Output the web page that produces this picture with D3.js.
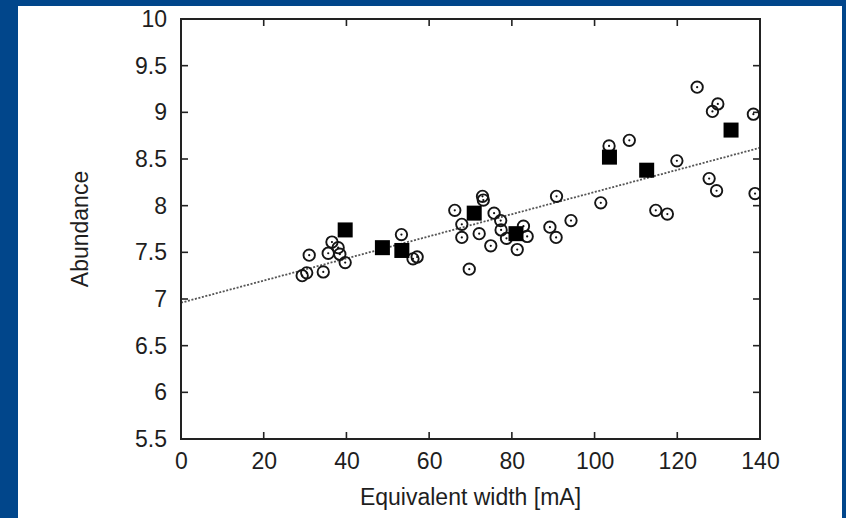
<!DOCTYPE html>
<html><head><meta charset="utf-8">
<script src="https://cdn.jsdelivr.net/npm/d3@7/dist/d3.min.js"></script>
<style>html,body{margin:0;padding:0;background:#01468b;}svg{display:block}</style>
</head><body>
<script>
// ---- data ----
const circleX = [29.3,30.4,31.0,34.4,35.6,36.5,38.0,38.4,39.7,53.3,56.1,57.1,
  66.2,67.9,67.9,69.7,72.1,72.9,73.1,74.9,75.7,77.3,77.4,78.7,81.3,82.8,83.7,
  89.2,90.7,90.8,94.3,101.5,103.5,108.4,114.8,117.6,119.9,124.8,127.7,128.5,129.5,129.8,138.4,138.8];
const circleY = [7.25,7.28,7.47,7.29,7.49,7.61,7.55,7.48,7.39,7.69,7.43,7.45,
  7.95,7.80,7.66,7.32,7.70,8.10,8.06,7.57,7.92,7.84,7.74,7.65,7.53,7.78,7.67,
  7.77,7.66,8.10,7.84,8.03,8.64,8.70,7.95,7.91,8.48,9.27,8.29,9.01,8.16,9.09,8.98,8.13];
const squareX = [39.7,48.7,53.4,70.9,81.0,103.6,112.6,133.0];
const squareY = [7.74,7.55,7.52,7.92,7.70,8.52,8.38,8.81];
const fitIntercept = [6.96];
const fitSlope = [0.01186];
const xTicks = [0,20,40,60,80,100,120,140];
const yTicks = [5.5,6,6.5,7,7.5,8,8.5,9,9.5,10];
const xTitle = "Equivalent width [mA]";
const yTitle = "Abundance";

const W = 846, H = 518;
const m = {left:181, right:760, top:19, bottom:439};
const svg = d3.select("body").append("svg").attr("width",W).attr("height",H);
svg.append("rect").attr("x",0).attr("y",0).attr("width",W).attr("height",H).attr("fill","#01468b");
svg.append("rect").attr("x",18).attr("y",6).attr("width",824).attr("height",H-6).attr("fill","#fff");

const x = d3.scaleLinear().domain([0,140]).range([m.left,m.right]);
const y = d3.scaleLinear().domain([5.5,10]).range([m.bottom,m.top]);
const font = "'Liberation Sans', Arial, sans-serif";
const fs = 23;
const tc = "#1e1e1e";

svg.append("clipPath").attr("id","c").append("rect")
  .attr("x",m.left).attr("y",m.top).attr("width",m.right-m.left).attr("height",m.bottom-m.top);

// regression line
const lx = [0,140];
svg.append("line")
  .attr("x1",x(lx[0])).attr("y1",y(fitIntercept[0]+fitSlope[0]*lx[0]))
  .attr("x2",x(lx[1])).attr("y2",y(fitIntercept[0]+fitSlope[0]*lx[1]))
  .attr("stroke","#555").attr("stroke-width",1.8).attr("stroke-dasharray","2,1.6");

// axes
const tl = 7;
const bottomAx = d3.axisBottom(x).tickValues(xTicks).tickSize(0).tickPadding(14).tickFormat(d3.format("d"));
const leftAx = d3.axisLeft(y).tickValues(yTicks).tickSize(0).tickPadding(14).tickFormat(d=>d3.format("")(d));
const gb = svg.append("g").attr("transform",`translate(0,${m.bottom})`).call(bottomAx);
const gl = svg.append("g").attr("transform",`translate(${m.left},0)`).call(leftAx);
[gb,gl].forEach(g=>{g.select(".domain").remove();
  g.selectAll("text").attr("font-family",font).attr("font-size",fs).attr("fill",tc);});
// inward ticks on all four sides
const tg = svg.append("g").attr("stroke","#222").attr("stroke-width",1.6);
xTicks.slice(1,-1).forEach(v=>{
  tg.append("line").attr("x1",x(v)).attr("x2",x(v)).attr("y1",m.bottom).attr("y2",m.bottom-tl);
  tg.append("line").attr("x1",x(v)).attr("x2",x(v)).attr("y1",m.top).attr("y2",m.top+tl);
});
yTicks.slice(1,-1).forEach(v=>{
  tg.append("line").attr("y1",y(v)).attr("y2",y(v)).attr("x1",m.left).attr("x2",m.left+tl);
  tg.append("line").attr("y1",y(v)).attr("y2",y(v)).attr("x1",m.right).attr("x2",m.right-tl);
});
svg.append("rect").attr("x",m.left).attr("y",m.top).attr("width",m.right-m.left).attr("height",m.bottom-m.top)
  .attr("fill","none").attr("stroke","#222").attr("stroke-width",2);

// circles
const cg = svg.append("g").attr("clip-path","url(#c)");
const cd = circleX.map((v,i)=>[v,circleY[i]]);
cg.selectAll("circle.o").data(cd).join("circle").attr("class","o")
  .attr("cx",d=>x(d[0])).attr("cy",d=>y(d[1])).attr("r",5.7)
  .attr("fill","none").attr("stroke","#151515").attr("stroke-width",1.9);
cg.selectAll("circle.d").data(cd).join("circle").attr("class","d")
  .attr("cx",d=>x(d[0])).attr("cy",d=>y(d[1])).attr("r",1.1)
  .attr("fill","#111");
// squares
const sd = squareX.map((v,i)=>[v,squareY[i]]);
const s = 15;
svg.append("g").selectAll("rect").data(sd).join("rect")
  .attr("x",d=>x(d[0])-s/2).attr("y",d=>y(d[1])-s/2).attr("width",s).attr("height",s).attr("fill","#000");

// titles
svg.append("text").attr("x",(m.left+m.right)/2).attr("y",505).attr("text-anchor","middle")
  .attr("font-family",font).attr("font-size",fs).attr("fill",tc).text(xTitle);
svg.append("text").attr("transform",`translate(88,${(m.top+m.bottom)/2}) rotate(-90)`).attr("text-anchor","middle")
  .attr("font-family",font).attr("font-size",fs).attr("fill",tc).text(yTitle);
</script>
</body></html>
